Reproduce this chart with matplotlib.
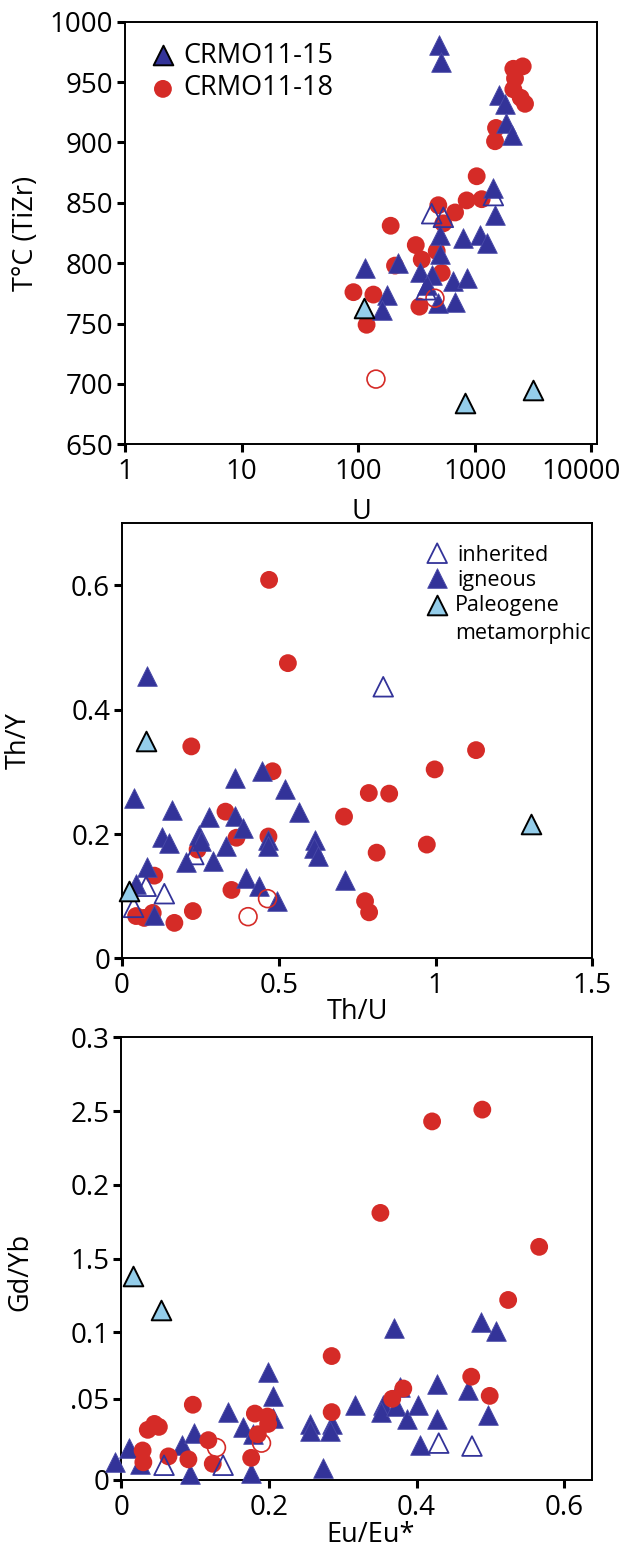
import matplotlib
matplotlib.use('Agg')
import matplotlib.pyplot as plt
import matplotlib.transforms as mtrans
from matplotlib.ticker import NullLocator

plt.rcParams['font.family'] = ['Open Sans', 'DejaVu Sans']

BLUE = '#333399'
RED = '#d52b27'
LBLUE = '#94cdea'

# ---------------- Panel 1: T (TiZr) vs U ----------------
p1_ign_U = [497, 514, 1626, 1820, 1846, 2080, 1445, 1492, 798, 1110, 1268, 656, 853, 678,
            504, 504, 339, 427, 387, 487, 218, 114, 178, 159]
p1_ign_T = [981, 967, 939, 932, 916, 906, 862, 840, 821, 823, 817, 785, 788, 768,
            823, 808, 793, 790, 782, 767, 800, 796, 774, 761]
p1_inh_U = [1445, 427, 538, 382]
p1_inh_T = [856, 841, 838, 778]
p1_met_U = [113, 826, 3185]
p1_met_T = [763, 684, 695]
p1_red_U = [487, 538, 190, 312, 351, 207, 521, 91, 135, 335, 118, 472,
            1040, 853, 1148, 678, 1524, 1494, 2145, 2583, 2218, 2145, 2483, 2703]
p1_red_T = [848, 833, 831, 815, 803, 798, 792, 776, 774, 764, 749, 810,
            872, 852, 853, 842, 912, 901, 961, 963, 953, 944, 937, 932]
p1_redo_U = [142, 456]
p1_redo_T = [704, 771]

# ---------------- Panel 2: Th/Y vs Th/U ----------------
p2_ign_x = [0.080, 0.039, 0.080, 0.045, 0.103, 0.128, 0.151, 0.159, 0.204, 0.247, 0.252,
            0.276, 0.290, 0.332, 0.361, 0.361, 0.385, 0.395, 0.436, 0.446, 0.464, 0.464,
            0.495, 0.521, 0.566, 0.616, 0.613, 0.624, 0.711]
p2_ign_y = [0.455, 0.258, 0.147, 0.120, 0.069, 0.196, 0.186, 0.238, 0.155, 0.199, 0.188,
            0.228, 0.157, 0.181, 0.290, 0.229, 0.210, 0.129, 0.116, 0.301, 0.191, 0.181,
            0.093, 0.272, 0.236, 0.190, 0.178, 0.165, 0.126]
p2_inh_x = [0.037, 0.077, 0.135, 0.229, 0.833]
p2_inh_y = [0.082, 0.116, 0.104, 0.167, 0.437]
p2_met_x = [0.023, 0.078, 1.304]
p2_met_y = [0.109, 0.349, 0.216]
p2_red_x = [0.469, 0.529, 0.221, 0.480, 1.129, 0.997, 0.787, 0.852, 0.708, 0.330, 0.365,
            0.467, 0.812, 0.972, 0.241, 0.103, 0.349, 0.775, 0.788, 0.226, 0.167, 0.045,
            0.071, 0.098]
p2_red_y = [0.609, 0.475, 0.341, 0.301, 0.335, 0.304, 0.266, 0.265, 0.228, 0.236, 0.194,
            0.196, 0.170, 0.183, 0.175, 0.133, 0.110, 0.092, 0.074, 0.076, 0.057, 0.068,
            0.065, 0.073]
p2_redo_x = [0.402, 0.464]
p2_redo_y = [0.067, 0.096]

# ---------------- Panel 3: Gd/Yb vs Eu/Eu* ----------------
p3_ign_x = [-0.008, 0.011, 0.025, 0.082, 0.098, 0.093, 0.145, 0.165, 0.199, 0.205, 0.205,
            0.179, 0.176, 0.255, 0.255, 0.285, 0.283, 0.316, 0.273, 0.355, 0.352, 0.372,
            0.369, 0.487, 0.508, 0.378, 0.387, 0.402, 0.428, 0.428, 0.469, 0.497, 0.404]
p3_ign_y = [0.012, 0.022, 0.011, 0.024, 0.032, 0.004, 0.046, 0.036, 0.073, 0.057, 0.042,
            0.031, 0.005, 0.038, 0.033, 0.038, 0.033, 0.051, 0.008, 0.051, 0.046, 0.050,
            0.103, 0.107, 0.101, 0.063, 0.041, 0.051, 0.065, 0.041, 0.061, 0.044, 0.024]
p3_inh_x = [0.058, 0.138, 0.430, 0.475]
p3_inh_y = [0.010, 0.010, 0.025, 0.023]
p3_met_x = [0.016, 0.054]
p3_met_y = [0.138, 0.115]
p3_red_x = [0.489, 0.421, 0.351, 0.566, 0.524, 0.285, 0.474, 0.499, 0.382, 0.367, 0.285,
            0.097, 0.036, 0.045, 0.051, 0.029, 0.030, 0.064, 0.091, 0.118, 0.124, 0.181,
            0.198, 0.199, 0.185, 0.176]
p3_red_y = [0.251, 0.243, 0.181, 0.158, 0.122, 0.084, 0.070, 0.057, 0.062, 0.055, 0.046,
            0.051, 0.034, 0.038, 0.036, 0.020, 0.012, 0.016, 0.014, 0.027, 0.011, 0.045,
            0.043, 0.038, 0.031, 0.015]
p3_redo_x = [0.129, 0.190]
p3_redo_y = [0.022, 0.025]

p1_xticks = [1, 10, 100, 1000, 10000]
p1_xlabels = ['1', '10', '100', '1000', '10000']
p1_yticks = [650, 700, 750, 800, 850, 900, 950, 1000]
p2_xticks = [0, 0.5, 1, 1.5]
p2_xlabels = ['0', '0.5', '1', '1.5']
p2_yticks = [0, 0.2, 0.4, 0.6]
p2_ylabels = ['0', '0.2', '0.4', '0.6']
p3_xticks = [0, 0.2, 0.4, 0.6]
p3_xlabels = ['0', '0.2', '0.4', '0.6']
p3_yticks = [0, 0.055, 0.1, 0.15, 0.2, 0.25, 0.3]
p3_ylabels = ['0', '.05', '0.1', '1.5', '0.2', '2.5', '0.3']

TRI = 200
CIR = 165
FS = 19.5
TFS = 20

fig = plt.figure(figsize=(6.28, 15.49), dpi=100)
W, H = 628.0, 1549.0


def make_ax(l, r, t, b):
    ax = fig.add_axes([l / W, 1 - b / H, (r - l) / W, (b - t) / H])
    ax.patch.set_alpha(0)
    return ax


ax1 = make_ax(125.2, 596.8, 21.7, 444.3)
ax2 = make_ax(122.0, 592.4, 522.7, 958.3)
ax3 = make_ax(121.2, 591.6, 1037.3, 1480.0)


def style(ax):
    for s in ax.spines.values():
        s.set_linewidth(1.4)
    ax.tick_params(direction='out', length=6, width=2.2, labelsize=TFS, pad=2.5,
                   top=False, right=False)
    ax.tick_params(axis='x', pad=4)


def draw(ax, ign, inh, met, red, redo, red_on_top=False):
    zr = 4 if red_on_top else 2
    ax.scatter(*red, s=CIR, marker='o', c=RED, edgecolors='none', zorder=zr, clip_on=False)
    ax.scatter(*ign, s=TRI, marker='^', c=BLUE, edgecolors='#4a4aa8', linewidths=0.6,
               zorder=3, clip_on=False)
    ax.scatter(*redo, s=CIR, marker='o', facecolors='none', edgecolors=RED, linewidths=1.2,
               zorder=5, clip_on=False)
    ax.scatter(*inh, s=TRI, marker='^', facecolors='none', edgecolors=BLUE, linewidths=1.3,
               zorder=5, clip_on=False)
    ax.scatter(*met, s=TRI, marker='^', c=LBLUE, edgecolors='black', linewidths=1.4,
               zorder=6, clip_on=False)


# Panel 1
draw(ax1, (p1_ign_U, p1_ign_T), (p1_inh_U, p1_inh_T), (p1_met_U, p1_met_T),
     (p1_red_U, p1_red_T), (p1_redo_U, p1_redo_T))
ax1.set_xscale('log')
ax1.set_xlim(1, 10 ** 4.048)
ax1.set_ylim(650, 1000)
ax1.set_xticks(p1_xticks)
ax1.set_xticklabels(p1_xlabels)
ax1.xaxis.set_minor_locator(NullLocator())
ax1.set_yticks(p1_yticks)
ax1.set_yticklabels([str(v) for v in p1_yticks])
style(ax1)
last = ax1.get_xticklabels()[-1]
last.set_transform(last.get_transform() +
                   mtrans.ScaledTranslation(-0.10, 0, fig.dpi_scale_trans))
ax1.set_xlabel('U', fontsize=FS)
ax1.set_ylabel('T\u00b0C (TiZr)', fontsize=FS)
ax1.xaxis.set_label_coords(0.5, -0.128)
ax1.yaxis.set_label_coords(-0.18, 0.5)
# legend
ax1.scatter([0.080], [0.921], s=TRI, marker='^', c=BLUE, edgecolors='black', linewidths=1.4,
            transform=ax1.transAxes, clip_on=False, zorder=7)
ax1.scatter([0.080], [0.841], s=CIR, marker='o', c=RED, edgecolors='none',
            transform=ax1.transAxes, clip_on=False, zorder=7)
ax1.text(0.1226, 0.918, 'CRMO11-15', transform=ax1.transAxes, fontsize=FS, va='center', ha='left')
ax1.text(0.1226, 0.843, 'CRMO11-18', transform=ax1.transAxes, fontsize=FS, va='center', ha='left')

# Panel 2
draw(ax2, (p2_ign_x, p2_ign_y), (p2_inh_x, p2_inh_y), (p2_met_x, p2_met_y),
     (p2_red_x, p2_red_y), (p2_redo_x, p2_redo_y))
ax2.set_xlim(0, 1.5)
ax2.set_ylim(0, 0.701)
ax2.set_xticks(p2_xticks)
ax2.set_xticklabels(p2_xlabels)
ax2.set_yticks(p2_yticks)
ax2.set_yticklabels(p2_ylabels)
style(ax2)
ax2.set_xlabel('Th/U', fontsize=FS)
ax2.set_ylabel('Th/Y', fontsize=FS)
ax2.xaxis.set_label_coords(0.5, -0.09)
ax2.yaxis.set_label_coords(-0.19, 0.5)
LFS = 15.5
ax2.scatter([0.670], [0.930], s=TRI, marker='^', facecolors='none', edgecolors=BLUE,
            linewidths=1.3, transform=ax2.transAxes, clip_on=False, zorder=7)
ax2.scatter([0.670], [0.873], s=TRI, marker='^', c=BLUE, edgecolors='#4a4aa8', linewidths=0.6,
            transform=ax2.transAxes, clip_on=False, zorder=7)
ax2.scatter([0.670], [0.811], s=TRI, marker='^', c=LBLUE, edgecolors='black', linewidths=1.4,
            transform=ax2.transAxes, clip_on=False, zorder=7)
ax2.text(0.712, 0.924, 'inherited', transform=ax2.transAxes, fontsize=LFS, va='center')
ax2.text(0.712, 0.868, 'igneous', transform=ax2.transAxes, fontsize=LFS, va='center')
ax2.text(0.708, 0.809, 'Paleogene', transform=ax2.transAxes, fontsize=LFS, va='center')
ax2.text(0.708, 0.746, 'metamorphic', transform=ax2.transAxes, fontsize=LFS, va='center')

# Panel 3
draw(ax3, (p3_ign_x, p3_ign_y), (p3_inh_x, p3_inh_y), (p3_met_x, p3_met_y),
     (p3_red_x, p3_red_y), (p3_redo_x, p3_redo_y), red_on_top=True)
ax3.set_xlim(0, 0.637)
ax3.set_ylim(0, 0.3)
ax3.set_xticks(p3_xticks)
ax3.set_xticklabels(p3_xlabels)
ax3.set_yticks(p3_yticks)
ax3.set_yticklabels(p3_ylabels)
style(ax3)
ax3.set_xlabel('Eu/Eu*', fontsize=FS)
ax3.set_ylabel('Gd/Yb', fontsize=FS)
ax3.xaxis.set_label_coords(0.53, -0.092)
ax3.yaxis.set_label_coords(-0.185, 0.47)

fig.savefig('out.png', dpi=100)
